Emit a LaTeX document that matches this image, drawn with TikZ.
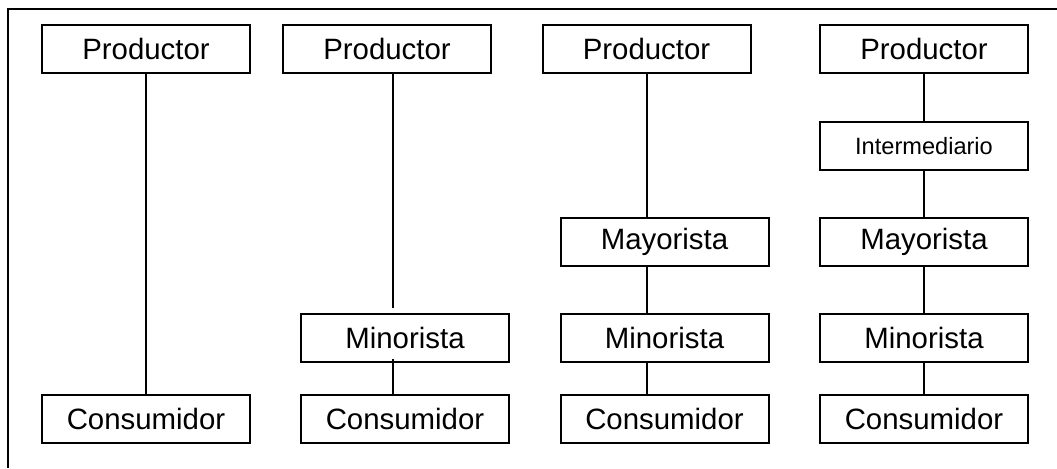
\documentclass[tikz,border=0pt]{standalone}
\usepackage{fontspec}
\setmainfont{Liberation Sans}
\usepackage{tikz}

\begin{document}
\begin{tikzpicture}[
        x=0.5pt, y=-0.5pt,
        line width=1pt,
        box/.style={draw, rectangle, minimum width=104pt, minimum height=24pt,
            inner sep=0pt, font=\fontsize{14.7}{16}\selectfont},
        smallbox/.style={box, font=\fontsize{11.8}{13}\selectfont}
    ]
    \useasboundingbox (0,0) rectangle (1057,468);
    \draw (8,468) -- (8,9) -- (1057,9);

    % canal directo
    \node[box] (p1) at (146,49) {Productor};
    \node[box] (c1) at (146,418.5) {Consumidor};
    \draw (p1) -- (c1);

    % con minorista
    \node[box] (p2) at (387,49) {Productor};
    \node[box] (m2) at (405,338) {Minorista};
    \node[box] (c2) at (405,418.5) {Consumidor};
    \draw ([xshift=3pt]p2.south) -- ([xshift=3pt,yshift=2.5pt]p2.south |- m2.north);
    \draw ([xshift=-6pt,yshift=2pt]m2.south) -- ([xshift=-6pt]c2.north);

    % con mayorista y minorista
    \node[box] (p3) at (646.5,49) {Productor};
    \node[box] (ma3) at (664.5,241.5) {Mayorista};
    \node[box] (mi3) at (664.5,338) {Minorista};
    \node[box] (c3) at (664.5,418.5) {Consumidor};
    \draw (p3.south) -- (p3.south |- ma3.north);
    \draw (ma3.south -| p3) -- (mi3.north -| p3);
    \draw (mi3.south -| p3) -- (c3.north -| p3);

    % con intermediario
    \node[box] (p4) at (924,49) {Productor};
    \node[smallbox] (i4) at (924,146) {Intermediario};
    \node[box] (ma4) at (924,241.5) {Mayorista};
    \node[box] (mi4) at (924,338) {Minorista};
    \node[box] (c4) at (924,418.5) {Consumidor};
    \draw (p4) -- (i4);
    \draw (i4) -- (ma4);
    \draw (ma4) -- (mi4);
    \draw (mi4) -- (c4);
\end{tikzpicture}
\end{document}
